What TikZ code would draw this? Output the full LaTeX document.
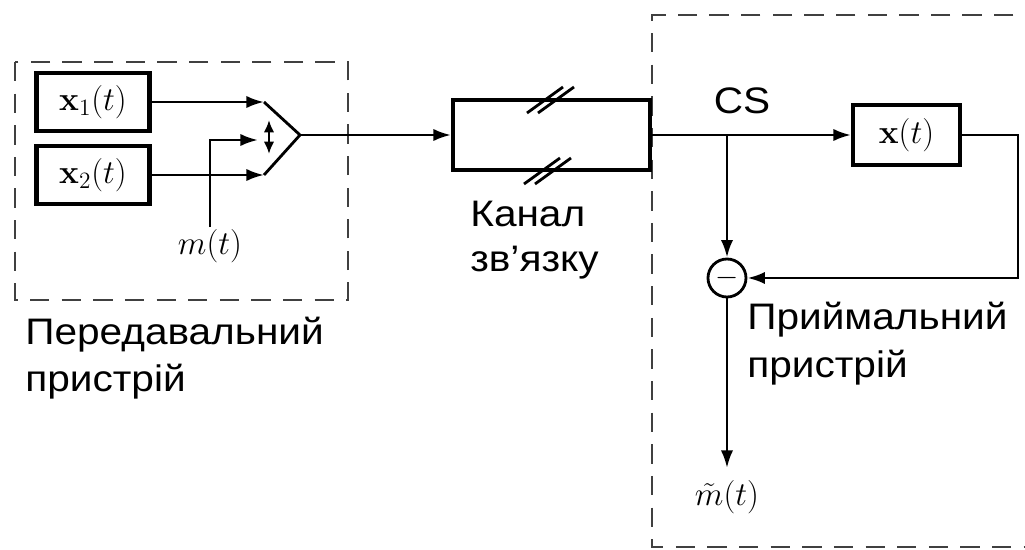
\RequirePackage{fix-cm}
\documentclass[tikz,border=0pt]{standalone}
\usepackage{amsmath}
\usepackage[no-math]{fontspec}
\setmainfont{Liberation Sans}[FakeStretch=1.1]
\usetikzlibrary{arrows.meta}

\tikzset{
  blok/.style={rectangle,draw,line width=2.3pt,inner sep=0pt,font=\fontsize{19}{23}\selectfont},
  sig/.style={line width=1.6pt},
  arr/.style={sig,-{Latex[length=10pt,width=7pt]}},
  ramka/.style={line width=1.5pt,draw=black!75,dash pattern=on 11pt off 7pt},
  napys/.style={font=\fontsize{21}{26}\selectfont,inner sep=0pt},
  mlab/.style={font=\fontsize{19}{22}\selectfont,inner sep=1pt},
}

\begin{document}
\begin{tikzpicture}[x=0.02cm,y=-0.02cm]
\useasboundingbox (0,0) rectangle (1025,550);

% frames
\draw[ramka] (15,62) rectangle (348,300);
\draw[ramka] (1045,15) -- (652,15) -- (652,547) -- (1045,547);

% transmitter
\node[blok,minimum width=2.26cm,minimum height=1.16cm] (x1) at (93,102) {$\mathbf{x}_1(t)$};
\node[blok,minimum width=2.26cm,minimum height=1.16cm] (x2) at (93,175) {$\mathbf{x}_2(t)$};
\coordinate (mA) at (264,102);
\coordinate (mB) at (300,135);
\coordinate (mC) at (264,175);
\coordinate (mM) at (258,140);
\draw[sig] (mA) -- (mB) -- (mC);
\draw[sig,{Latex[length=7pt,width=6pt]}-{Latex[length=7pt,width=6pt]}] (269,120) -- (269,154);
\draw[arr] (x1.east) -- (mA);
\draw[arr] (x2.east) -- (mC);
\node[mlab] (m) at (210,246) {$m(t)$};
\draw[arr] (m.north) |- (mM);

% channel
\node[blok,minimum width=3.94cm,minimum height=1.4cm] (kanal) at (551.5,135) {};
\draw[arr] (mB) -- (kanal.west);
\draw[sig] (527,113) -- (563,87);
\draw[sig] (538,113) -- (574,87);
\draw[sig] (524,184) -- (560,158);
\draw[sig] (535,184) -- (571,158);

% receiver
\node[blok,minimum width=2.14cm,minimum height=1.2cm] (x) at (906.5,135) {$\mathbf{x}(t)$};
\coordinate (cs) at (727,135);
\coordinate (kut) at (1018,135);
\coordinate (vyh) at (727,468);
\node[napys,anchor=base] (cslab) at (742,114) {CS};
\draw[arr] (kanal.east) -- (x.west);
\node[draw,circle,sig,minimum size=0.76cm,inner sep=0pt,font=\fontsize{17}{20}\selectfont] (sum) at (727,278) {$-$};
\draw[arr] (cs) -- (sum.north);
\draw[arr] (x.east) -- (kut) |- (sum.east);
\draw[arr] (sum.south) -- (vyh);
\node[mlab] (mt) at (727,497) {$\tilde{m}(t)$};

% labels
\node[napys,anchor=base west] (pd1) at (25,345) {Передавальний};
\node[napys,anchor=base west] (pd2) at (25,392) {пристрій};
\node[napys,anchor=base west] (kn1) at (470,227) {Канал};
\node[napys,anchor=base west] (kn2) at (470,272) {зв'язку};
\node[napys,anchor=base west] (pr1) at (747,330) {Приймальний};
\node[napys,anchor=base west] (pr2) at (747,378) {пристрій};
\end{tikzpicture}
\end{document}
